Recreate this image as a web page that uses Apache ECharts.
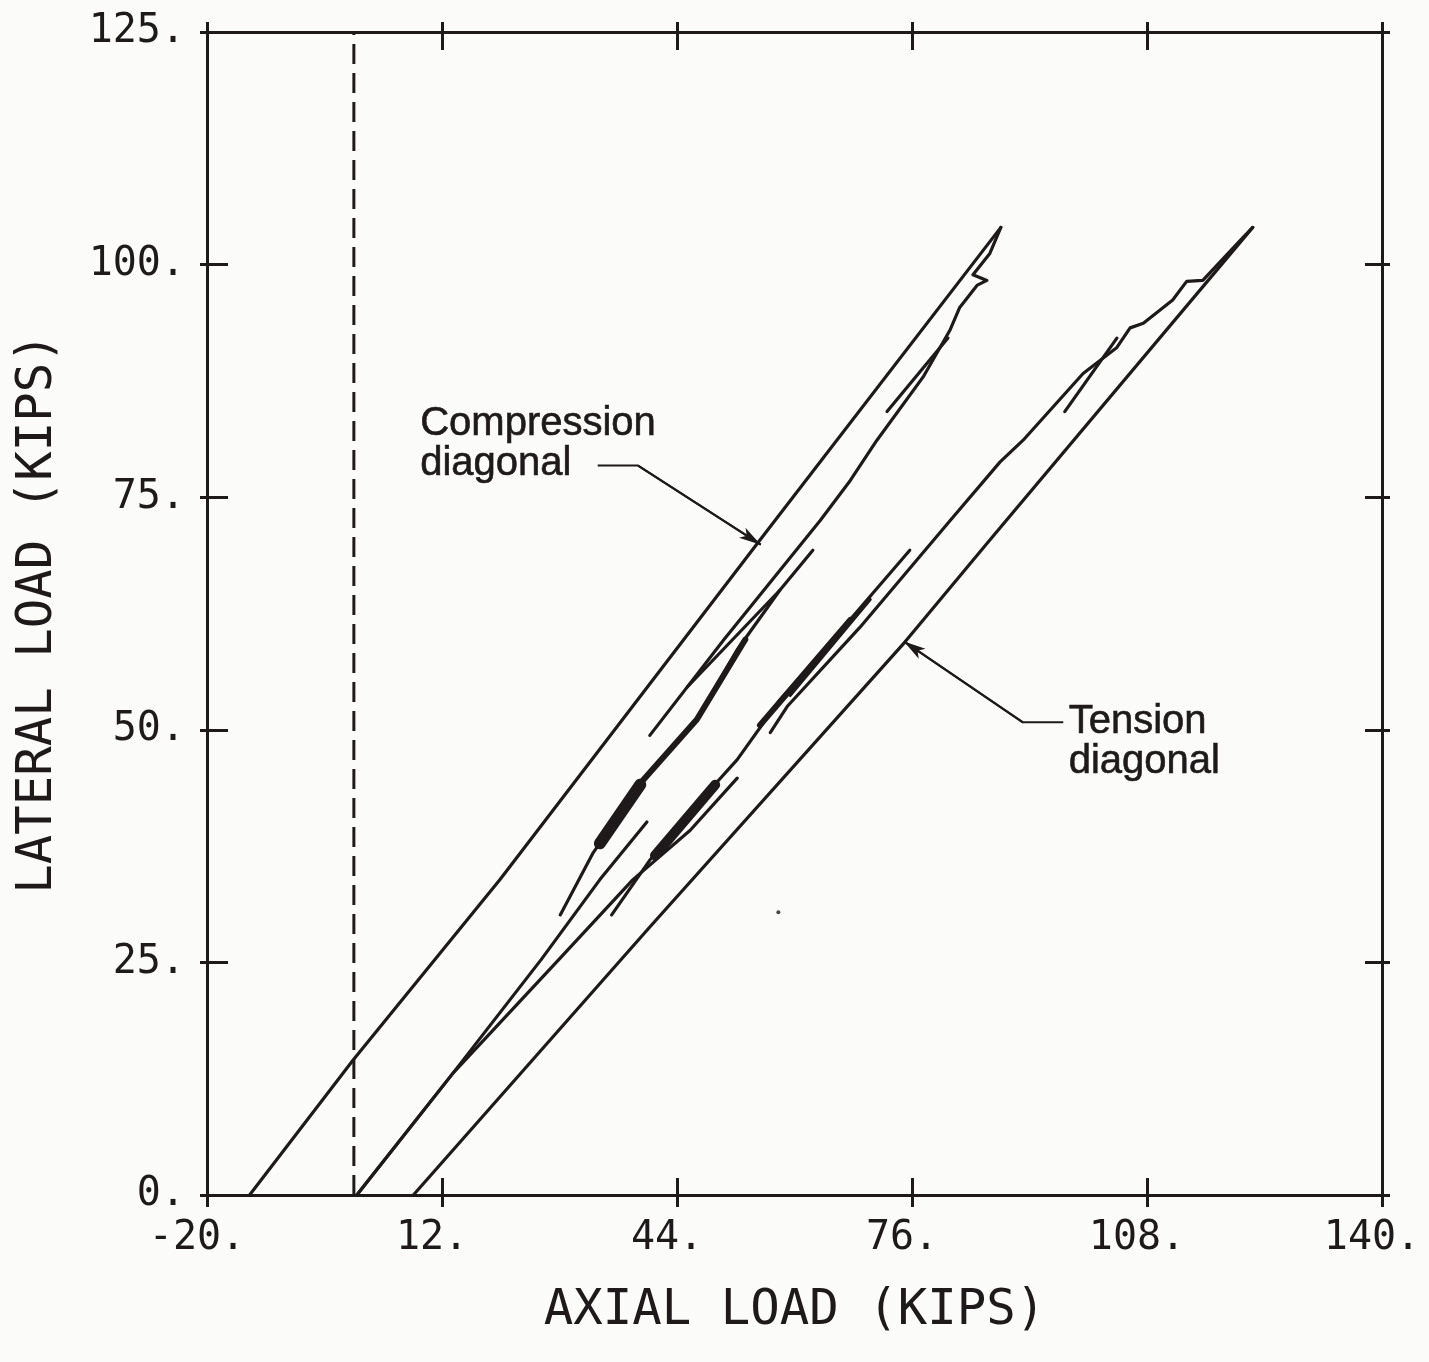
<!DOCTYPE html>
<html><head><meta charset="utf-8">
<script src="https://cdn.jsdelivr.net/npm/echarts@6/dist/echarts.min.js"></script>
<style>html,body{margin:0;padding:0;background:#fbfbf9}#c{width:1429px;height:1362px}</style>
</head><body><div id="c"></div>
<script>
// ---- tick values ----
const xTicks = [-20, 12, 44, 76, 108, 140];
const yTicks = [0, 25, 50, 75, 100, 125];

// ---- curves [axial load, lateral load] (kips) ----
const compressionLoading = [[-14.2,0],[-0.1,14.5],[19.9,33.9],[55.3,70.4],[88.1,104.0]];
const compressionUnloadingUpper = [[88.1,104.0],[86.6,101.2],[84.3,98.9],[86.2,98.3],[84.9,97.8],[82.5,95.4],[81.2,93.0],[77.5,87.9],[71.2,81.1],[67.6,76.8],[63.5,72.5],[50.4,59.7],[40.3,49.4]];
const compressionShortTop = [[72.6,84.2],[80.9,92.1]];
const compressionCycle = [[62.5,69.3],[58.0,65.0],[52.2,58.6],[46.7,51.1],[42.6,47.5],[39.4,44.6],[32.6,36.8],[28.1,30.1]];
const compressionCycleBranch = [[58.0,65.0],[45.4,54.6]];
const compressionThick = [[53.3,59.7],[46.7,51.1],[39.4,44.6]];
const compressionBlob = [[39.0,44.1],[33.5,37.8]];
const compressionUnloadingLower = [[39.9,40.1],[33.5,33.9],[25.5,25.3],[13.5,13.1],[0.4,0]];

const tensionUnloadingUpper = [[122.4,104.0],[120.7,102.6],[115.6,98.3],[113.4,98.2],[111.5,96.2],[107.5,93.7],[105.7,93.2],[103.9,91.1],[99.3,88.3],[91.1,81.1],[88.0,78.8],[81.2,72.5],[68.9,61.0],[59.0,52.5],[56.7,49.7]];
const tensionShortTop = [[96.8,84.2],[103.9,92.1]];
const tensionCycle = [[75.7,69.3],[64.8,59.3],[58.0,53.2],[52.2,46.8],[48.9,43.9],[44.8,40.0],[40.3,36.0],[35.1,30.1]];
const tensionCycleBranch = [[70.3,64.0],[59.4,53.7]];
const tensionThick = [[67.6,61.8],[55.3,50.5]];
const tensionBlob = [[49.2,44.1],[41.0,36.5]];
const tensionUnloadingLower = [[52.2,44.8],[45.8,39.2],[38.0,33.9],[27.9,25.3],[13.5,13.1],[0.4,0]];
const tensionLoading = [[8.1,0],[40.3,28.8],[75.0,59.4],[86.6,70.4],[122.4,104.0]];

const zeroLine = [[0,0],[0,125]];
const speck = [[57.8,30.4]];

// ---- annotations ----
const compressionLeader = [[33.2,78.4],[38.7,78.4],[55.4,69.9]];
const tensionLeader = [[96.6,50.8],[91.1,50.8],[74.9,59.5]];
const compressionLabel = {text: 'Compression\ndiagonal', at: [9.1, 80.7]};
const tensionLabel = {text: 'Tension\ndiagonal', at: [97.4, 48.6]};

const INK = '#1e1a1b';
const monoFont = 'DejaVu Sans Mono';

const xMin = xTicks[0], xMax = xTicks[xTicks.length-1], xInt = xTicks[1]-xTicks[0];
const yMin = yTicks[0], yMax = yTicks[yTicks.length-1], yInt = yTicks[1]-yTicks[0];

function xAx(position, inside, len, withLabel) {
  const a = {
    type: 'value', position: position, min: xMin, max: xMax, interval: xInt,
    axisLine: {show: true, onZero: false, lineStyle: {color: INK, width: 3}},
    axisTick: {show: true, inside: inside, length: len, lineStyle: {color: INK, width: 3}},
    splitLine: {show: false},
    axisLabel: {show: false}
  };
  if (withLabel) {
    a.axisLabel = {show: true, showMinLabel: true, showMaxLabel: true, margin: 24,
      formatter: v => v + '.', color: INK, fontFamily: monoFont, fontSize: 40,
      padding: [0, 20, 0, 0]};
    a.name = 'AXIAL LOAD (KIPS)';
    a.nameLocation = 'middle';
    a.nameGap = 92;
    a.nameTextStyle = {color: INK, fontFamily: monoFont, fontSize: 49};
  }
  return a;
}
function yAx(position, inside, len, withLabel) {
  const a = {
    type: 'value', position: position, min: yMin, max: yMax, interval: yInt,
    axisLine: {show: true, onZero: false, lineStyle: {color: INK, width: 3}},
    axisTick: {show: true, inside: inside, length: len, lineStyle: {color: INK, width: 3}},
    splitLine: {show: false},
    axisLabel: {show: false}
  };
  if (withLabel) {
    a.axisLabel = {show: true, showMinLabel: true, showMaxLabel: true, margin: 22,
      formatter: v => v + '.', color: INK, fontFamily: monoFont, fontSize: 40};
    a.name = 'LATERAL LOAD (KIPS)';
    a.nameLocation = 'middle';
    a.nameRotate = 90;
    a.nameGap = 144;
    a.nameTextStyle = {color: INK, fontFamily: monoFont, fontSize: 49};
  }
  return a;
}

function curve(data, width) {
  return {type: 'line', data: data, showSymbol: false, symbol: 'none', silent: true,
    lineStyle: {color: INK, width: width || 3.2, cap: 'round', join: 'round'}, z: 3};
}

const series = [
  {type: 'line', data: zeroLine, showSymbol: false, symbol: 'none', silent: true,
   lineStyle: {color: INK, width: 3, type: [20, 9]}, z: 2},
  curve(compressionLoading), curve(compressionUnloadingUpper), curve(compressionShortTop),
  curve(compressionCycle), curve(compressionCycleBranch), curve(compressionThick, 6),
  curve(compressionBlob, 12), curve(compressionUnloadingLower),
  curve(tensionUnloadingUpper), curve(tensionShortTop), curve(tensionCycle),
  curve(tensionCycleBranch), curve(tensionThick, 6), curve(tensionBlob, 10),
  curve(tensionUnloadingLower), curve(tensionLoading),
  {type: 'scatter', data: speck, symbolSize: 4, itemStyle: {color: INK}, silent: true},
];

[compressionLeader, tensionLeader].forEach(ld => {
  series.push({type: 'line', data: ld, showSymbol: false, symbol: 'none', silent: true,
    lineStyle: {color: INK, width: 2}, z: 4,
    markLine: {silent: true, symbol: ['none', 'arrow'], symbolSize: [9, 22], label: {show: false},
      lineStyle: {color: INK, width: 2, type: 'solid'}, animation: false,
      data: [[{coord: ld[1]}, {coord: ld[2]}]]}});
});
[compressionLabel, tensionLabel].forEach(lb => {
  series.push({type: 'scatter', data: [lb.at], symbolSize: 1, silent: true,
    itemStyle: {color: 'rgba(0,0,0,0)'}, z: 5,
    label: {show: true, position: [0, 0], align: 'left', verticalAlign: 'middle', opacity: 1,
      formatter: lb.text, color: INK, textBorderColor: INK, textBorderWidth: 0.6,
      fontFamily: 'Liberation Sans', fontSize: 40, lineHeight: 40}});
});

const chart = echarts.init(document.getElementById('c'), null, {renderer: 'canvas'});
chart.setOption({
  animation: false,
  backgroundColor: '#fbfbf9',
  grid: {left: 207, right: 47, top: 32, bottom: 167, containLabel: false, outerBoundsMode: 'none'},
  xAxis: [xAx('bottom', false, 12, true), xAx('bottom', true, 17, false), xAx('top', true, 18, false), xAx('top', false, 10, false)],
  yAxis: [yAx('left', false, 7, true), yAx('left', true, 21, false), yAx('right', true, 17, false), yAx('right', false, 8, false)],
  series: series
});
</script></body></html>
